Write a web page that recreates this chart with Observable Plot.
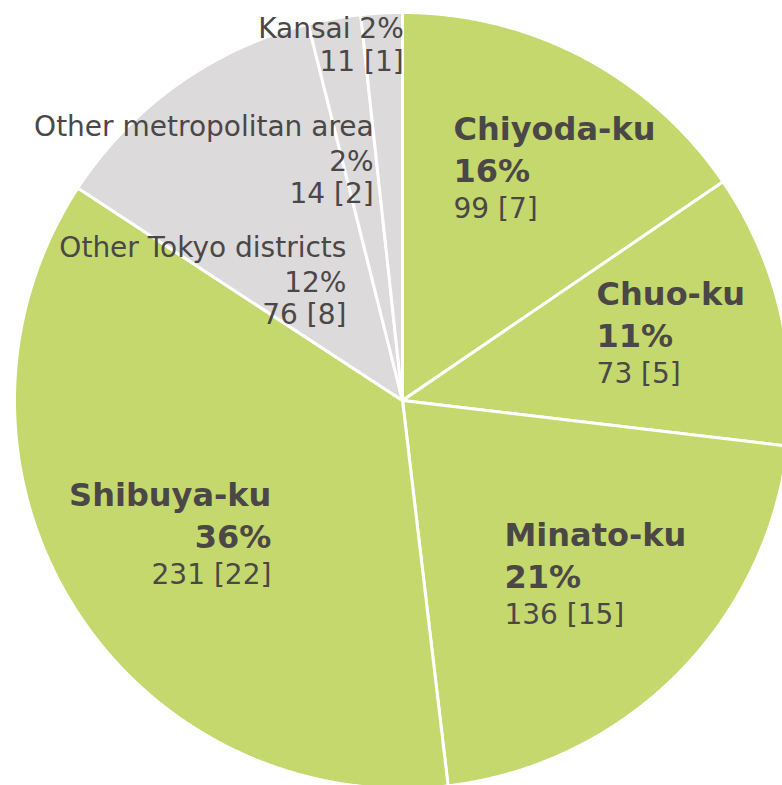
<!DOCTYPE html>
<html><head><meta charset="utf-8">
<script src="https://cdn.jsdelivr.net/npm/d3@7"></script>
<script src="https://cdn.jsdelivr.net/npm/@observablehq/plot@0.6"></script>
<style>html,body{margin:0;padding:0;background:#fff;overflow:hidden}#chart svg{display:block}</style>
</head><body><div id="chart"></div>
<script>
// ---- data ----
const categories = ["Chiyoda-ku", "Chuo-ku", "Minato-ku", "Shibuya-ku", "Other Tokyo districts", "Other metropolitan area", "Kansai"];
const counts = [99, 73, 136, 231, 76, 14, 11];
const bracketCounts = [7, 5, 15, 22, 8, 2, 1];
const percentLabels = ["16%", "11%", "21%", "36%", "12%", "2%", "2%"];
const groups = ["main", "main", "main", "main", "other", "other", "other"];

// ---- styling / layout ----
const groupColors = {main: "#c5d86d", other: "#dcdadb"};
const textColor = "#4b4747";
const W = 782, H = 785, cx = 402, cy = 400, R = 388;
// label block anchor (first-line baseline) in polar form: angle clockwise from top (deg), radius as fraction of R
const labelLayout = [
  {angle: 11.1, radius: 0.683, anchor: "start", style: "big"},
  {angle: 63.7, radius: 0.558, anchor: "start", style: "big"},
  {angle: 144.9, radius: 0.457, anchor: "start", style: "big"},
  {angle: 231.3, radius: 0.433, anchor: "end", style: "big"},
  {angle: 338.6, radius: 0.396, anchor: "end", style: "small"},
  {angle: 353.8, radius: 0.687, anchor: "end", style: "small"},
  {angle: 0.2, radius: 0.933, anchor: "end", style: "inline"}
];

const rows = categories.map((name, i) => ({name, count: counts[i], bracket: bracketCounts[i], pct: percentLabels[i], group: groups[i], ...labelLayout[i]}));

const arcs = d3.pie().sort(null).value(d => d.count).startAngle(0).endAngle(2 * Math.PI)(rows);

// slice outlines
const vertices = arcs.flatMap(a => {
  const pts = [{name: a.data.name, color: groupColors[a.data.group], x: 0, y: 0}];
  const n = Math.max(2, Math.ceil((a.endAngle - a.startAngle) / (Math.PI / 720)));
  for (let k = 0; k <= n; k++) {
    const t = a.startAngle + (a.endAngle - a.startAngle) * k / n;
    pts.push({name: a.data.name, color: groupColors[a.data.group], x: R * Math.sin(t), y: -R * Math.cos(t)});
  }
  pts.push({name: a.data.name, color: groupColors[a.data.group], x: 0, y: 0});
  return pts;
});

// label lines
const lines = rows.flatMap(d => {
  const a = d.angle * Math.PI / 180;
  const x = d.radius * R * Math.sin(a), y0 = -d.radius * R * Math.cos(a);
  const cnt = `${d.count} [${d.bracket}]`;
  if (d.style === "big") return [
    {text: d.name, x, y: y0, bold: true, anchor: d.anchor},
    {text: d.pct, x, y: y0 + 42, bold: true, anchor: d.anchor},
    {text: cnt, x, y: y0 + 78, bold: false, anchor: d.anchor}
  ];
  if (d.style === "small") return [
    {text: d.name, x, y: y0, bold: false, anchor: d.anchor},
    {text: d.pct, x, y: y0 + 35, bold: false, anchor: d.anchor},
    {text: cnt, x, y: y0 + 67, bold: false, anchor: d.anchor}
  ];
  return [
    {text: `${d.name} ${d.pct}`, x, y: y0, bold: false, anchor: d.anchor},
    {text: cnt, x, y: y0 + 33, bold: false, anchor: d.anchor}
  ];
});

const textMarks = [];
for (const bold of [true, false]) for (const anchor of ["start", "end"]) {
  const sub = lines.filter(l => l.bold === bold && l.anchor === anchor);
  if (!sub.length) continue;
  textMarks.push(Plot.text(sub, {
    x: "x", y: "y", text: "text", textAnchor: anchor, lineAnchor: "bottom",
    fill: textColor, fontSize: bold ? 32 : 28, fontWeight: bold ? "bold" : "normal",
    fontFamily: "DejaVu Sans"
  }));
}

const chart = Plot.plot({
  width: W, height: H, margin: 0,
  style: {background: "#fff", fontFamily: "DejaVu Sans", overflow: "hidden"},
  x: {domain: [-cx, W - cx], range: [0, W], axis: null},
  y: {domain: [-cy, H - cy], range: [0, H], axis: null},
  color: {type: "identity"},
  marks: [
    Plot.line(vertices, {x: "x", y: "y", z: "name", fill: "color", stroke: "#fff", strokeWidth: 3, strokeLinejoin: "round", curve: "linear"}),
    ...textMarks
  ]
});
document.getElementById("chart").appendChild(chart);
</script>
</body></html>
